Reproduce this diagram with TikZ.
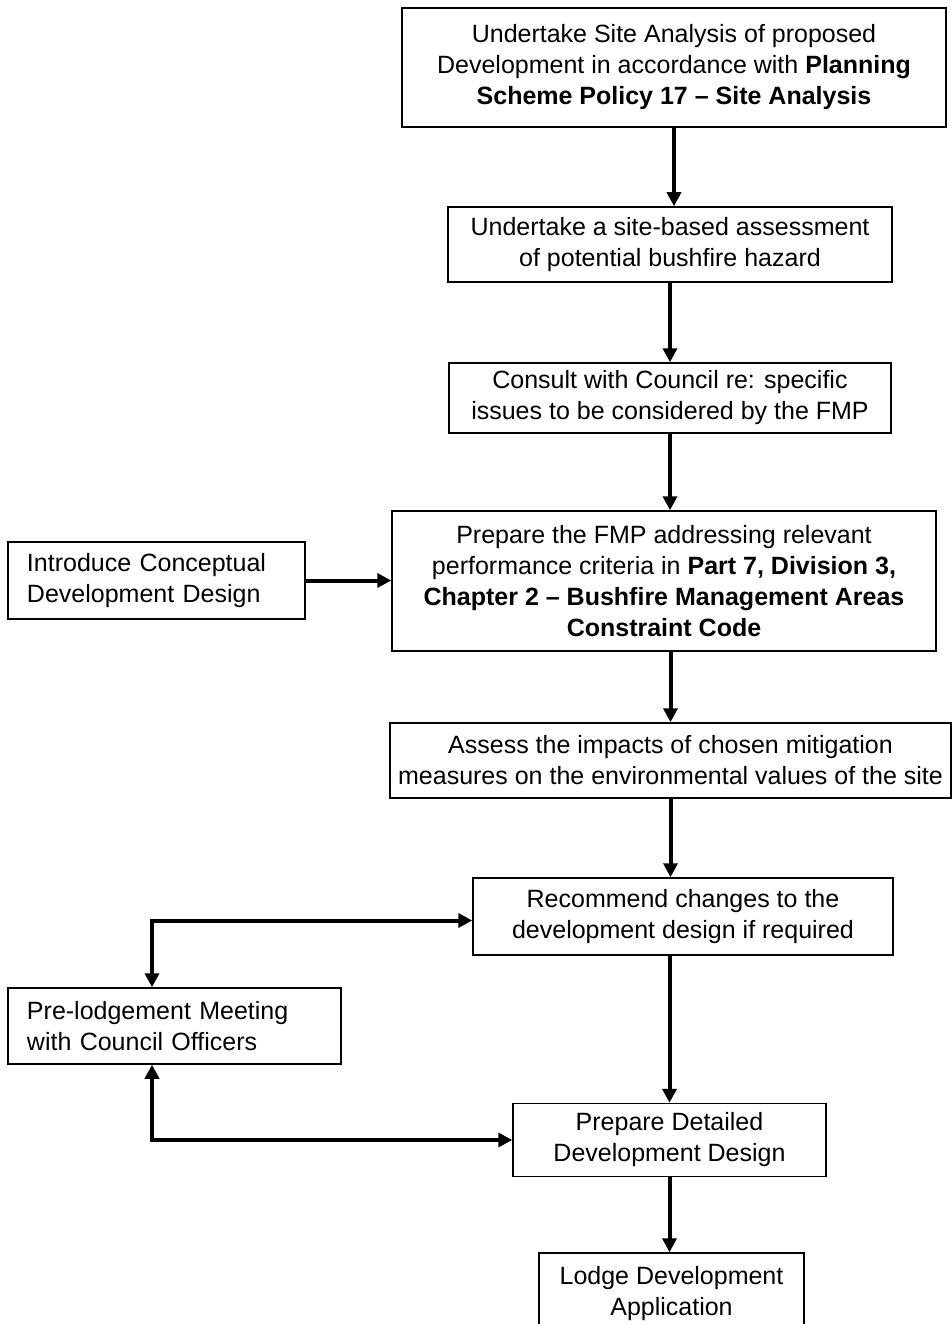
\documentclass[tikz,border=0pt]{standalone}
\usepackage{fontspec}
\setmainfont{Liberation Sans}
\usetikzlibrary{arrows.meta}

\begin{document}
\begin{tikzpicture}[x=1pt,y=-1pt,
    box/.style={draw,line width=1.5pt,inner sep=0pt,align=center,
                font=\fontsize{25}{31}\selectfont},
    lbox/.style={box,align=left,inner xsep=19pt},
    arr/.style={line width=4pt,-{Triangle[length=14pt,width=14pt]}},
    darr/.style={line width=4pt,{Triangle[length=14pt,width=14pt]}-{Triangle[length=14pt,width=14pt]}}]
    \useasboundingbox (0,0) rectangle (951,1324);
    % main column
    \node[box,minimum width=544pt,minimum height=119pt] (site) at (674,67.5)
        {Undertake Site Analysis of proposed\\Development in accordance with \textbf{Planning}\\\textbf{Scheme Policy 17 -- Site Analysis}};
    \node[box,minimum width=444pt,minimum height=75pt] (haz) at (670,244.5)
        {Undertake a site-based assessment\\of potential bushfire hazard};
    \node[box,minimum width=442pt,minimum height=70pt] (cons) at (670,398)
        {Consult with Council re: specific\\issues to be considered by the FMP};
    \node[box,minimum width=544pt,minimum height=140pt] (fmp) at (664,581)
        {Prepare the FMP addressing relevant\\performance criteria in \textbf{Part 7, Division 3,}\\\textbf{Chapter 2 -- Bushfire Management Areas}\\\textbf{Constraint Code}};
    \node[box,minimum width=561pt,minimum height=75pt] (ass) at (670.5,760.5)
        {Assess the impacts of chosen mitigation\\measures on the environmental values of the site};
    \node[box,minimum width=420pt,minimum height=77pt] (rec) at (683,916.5)
        {Recommend changes to the\\development design if required};
    \node[box,minimum width=313pt,minimum height=73pt] (det) at (669.5,1140)
        {Prepare Detailed\\Development Design};
    \node[box,minimum width=265pt,minimum height=81pt] (lod) at (671.5,1293.5)
        {Lodge Development\\Application};
    % side boxes
    \node[lbox,text width=259pt,minimum height=77pt] (idea) at (156.5,580.5)
        {Introduce Conceptual\\Development Design};
    \node[lbox,text width=295pt,minimum height=76pt] (pre) at (174.5,1026)
        {Pre-lodgement Meeting\\with Council Officers};
    % connectors
    \draw[arr] (site.south) -- (site.south |- haz.north);
    \draw[arr] (haz.south) -- (cons.north);
    \draw[arr] (cons.south) -- (cons.south |- fmp.north);
    \draw[arr] (idea.east) -- (idea.east -| fmp.west);
    \draw[arr] (fmp.south -| ass.north) -- (ass.north);
    \draw[arr] (ass.south) -- (ass.south |- rec.north);
    \draw[arr] (rec.south -| det.north) -- (det.north);
    \draw[arr] (det.south) -- (det.south |- lod.north);
    \draw[darr] ([xshift=-22.5pt]pre.north) |- ([yshift=-4pt]rec.west);
    \draw[darr] ([xshift=-22.5pt]pre.south) |- (det.west);
\end{tikzpicture}
\end{document}
